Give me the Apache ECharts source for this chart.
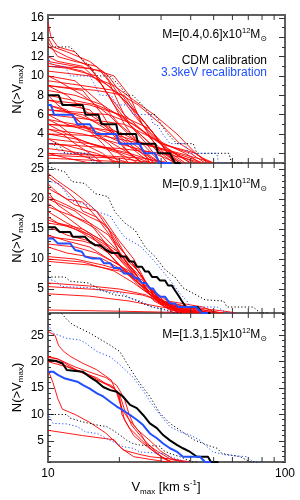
<!DOCTYPE html>
<html><head><meta charset="utf-8">
<script src="https://cdn.jsdelivr.net/npm/echarts@6/dist/echarts.min.js"></script>
<style>html,body{margin:0;padding:0;background:#fff}#c{width:300px;height:500px}</style>
</head><body><div id="c"></div>
<script>
// ---------- tick labels ----------
const xMinorTicks = [20,30,40,50,60,70,80,90];
const topYTicks = [2,4,6,8,10,12,14,16];
const midYTicks = [5,10,15,20,25];
const botYTicks = [5,10,15,20,25];
const yRanges = [[1,16.3],[1,26],[1,29.2]];
const panelTitles = ['[0.4,0.6]', '[0.9,1.1]', '[1.3,1.5]'];
const legendLabels = ['CDM calibration', '3.3keV recalibration'];

// ---------- top panel M=[0.4,0.6] ----------
const topBlackMed = [[10,8],[11.1,8],[11.5,7],[14,7],[14.4,6],[16.3,6],[16.8,5],[19.4,5],[19.8,4],[23.5,4],[24,3],[28.3,3],[29.2,2],[32.7,2],[34.3,1],[36,1],[36.3,0]];
const topBlueMed = [[10,7],[10.3,7],[10.6,6],[12.7,6],[13.3,5],[15,5],[16,4],[19.4,4],[20,3],[24.3,3],[25.5,2],[28.3,2],[29.5,1],[33,1],[33.3,0]];
const topBlackHi = [[10,13],[12.4,13],[13.6,12],[15,11],[16.2,10],[18.3,10],[20,9],[21.6,8],[22.8,8],[25,7],[26.9,6],[28.3,6],[30,5],[32,4],[35,3],[41,3],[42.5,2],[58,2],[59.5,1],[66,1],[66.5,0]];
const topBlackLo = [[10,3],[11,3],[11.8,2],[14.5,2],[15.5,1],[17,1],[17.3,0]];
const topBlueHi = [[10,12],[10.4,11],[11.8,11],[12.4,10],[15,10],[15.8,9],[16.6,8],[18.5,8],[19.5,7],[22,7],[22.8,6],[27,6],[27.8,5],[28.8,5],[30.5,4],[32.7,3],[37.9,3],[39,2],[51.5,2],[52.5,1],[56,1],[56.3,0]];
const topBlueLo = [[10,3],[10.5,3],[11.3,2],[15,2],[15.8,1],[17,1],[17.2,0]];
const topRed = [
 [[10,15.5],[10.3,14],[11,13],[13,12.5],[16,10],[20,8],[24,6],[28,4],[32,2],[36,1]],
 [[10,14],[10.5,13],[12,12.5],[15,11.5],[18,10],[22,7],[26,5],[30,3],[34,1]],
 [[10,13],[12,12],[15,11],[18,8],[21,6],[26,4],[31,2],[36,1]],
 [[10,11.5],[13,11],[17,10.5],[20,8],[23,6],[27,4],[33,2],[38,1]],
 [[10,11.3],[14,10.5],[18,9],[22,7],[25,5],[30,3],[40,2],[46,1]],
 [[10,11],[12,10.8],[16,10],[19,7],[22,5],[27,3],[32,1]],
 [[10,10.5],[15,10],[19,9],[23,7.5],[28,6],[35,4],[42,2],[48,1]],
 [[10,10],[13,9.5],[17,7],[20,5],[25,3],[30,1]],
 [[10,10],[11,9.5],[14,8],[18,6],[24,3],[28,1]],
 [[10,9.5],[14,9],[19,8.5],[24,7],[30,5],[36,3],[45,1.5],[50,1]],
 [[10,9],[12,8],[15,6],[20,4],[26,2],[30,1]],
 [[10,8.5],[13,8],[17,7],[21,5.5],[27,3],[35,1]],
 [[10,8],[16,7],[20,6],[26,4],[34,2],[40,1]],
 [[10,8],[11,7],[14,5],[18,3],[22,1]],
 [[10,7.5],[15,7],[20,6],[27,4.5],[32,2],[37,1]],
 [[10,7],[13,6],[17,5],[22,3],[28,1]],
 [[10,7],[12,6.5],[14,5],[17,3],[20,1]],
 [[10,6.5],[18,6],[23,5],[30,3],[42,2],[47,1]],
 [[10,6.5],[14,6],[19,4],[24,2],[27,1]],
 [[10,6],[12,5],[16,4],[22,2],[25,1]],
 [[10,6],[15,5.5],[21,5],[28,3.5],[38,2],[44,1]],
 [[10,5.5],[13,5],[17,4],[23,2.5],[30,1]],
 [[10,5.5],[11,5],[14,3],[17,2],[19,1]],
 [[10,5],[16,4.5],[22,3.5],[30,2.5],[40,1.5],[45,1]],
 [[10,5],[12,4],[15,3],[20,2],[24,1]],
 [[10,4.5],[14,4],[20,3],[28,2],[35,1]],
 [[10,4.5],[11.5,4],[13,3],[15,2],[17,1]],
 [[10,4],[17,3.8],[25,3],[34,2],[42,1]],
 [[10,4],[13,3.5],[18,2.5],[24,1.5],[27,1]],
 [[10,3.5],[15,3],[22,2],[30,1]],
 [[10,3],[12,2.8],[16,2],[20,1]],
 [[10,3],[20,2.5],[30,2],[38,1.5],[44,1]],
 [[10,2.5],[14,2],[19,1.5],[22,1]],
 [[10,2],[16,1.8],[25,1.5],[33,1]],
 [[10,2],[12,1.5],[15,1]],
 [[10,1.8],[20,1.5],[28,1]],
 [[10,1.5],[18,1.2],[24,1]],
 [[10,12],[11,11.5],[14,11],[17,9],[19,7],[21,5],[24,3],[27,1]],
 [[10,9],[16,8.5],[21,8],[24,6],[28,4],[32,2.5],[40,1]],
 [[10,11],[15,10.8],[19,10],[22,8],[25,5],[30,2],[34,1]],
 [[10,7.5],[12,7],[15,6.5],[18,4.5],[21,2.5],[25,1]],
 [[10,9],[14,8.5],[17,6],[19,4],[22,2],[25,1]],
 [[10,13.5],[11,12],[13,11.5],[16,11],[18,9.5],[20,7],[22,5],[26,3],[30,1]],
 [[10,5],[14,4.8],[20,4.2],[25,3],[36,2],[47,1.2],[50,1]],
 [[10,3.5],[11,3],[13,2],[17,1]]
];

// ---------- middle panel M=[0.9,1.1] ----------
const midBlackMed = [[10,15.3],[10.7,15.3],[11.2,14.5],[12.4,14.5],[12.7,13.7],[14.3,13.7],[15,12.9],[15.8,12.3],[16.6,12.3],[17.6,11.5],[18.6,11],[19.8,11],[20.3,10.4],[21.3,10.4],[22,9.6],[23,9.6],[23.7,8.7],[24.9,8.7],[25.7,7.9],[26.6,7.9],[27.5,7],[28.8,7],[29.7,6.4],[31.2,6.4],[32.1,5.6],[33.3,5.6],[34.3,4.8],[35.4,4],[36.7,3],[38.2,2],[42.9,2],[44.6,1],[48,1],[48.5,0]];
const midBlueMed = [[10,13.4],[10.5,13.4],[11,12.6],[12.4,12.6],[13,11.5],[13.9,11.2],[14.3,10.4],[15.3,10.1],[16.6,10.1],[17.2,9.3],[18.3,9.3],[19,8.5],[20.1,8.5],[20.9,7.6],[22.2,7.6],[23.3,6.8],[24,6.8],[24.9,6],[25.9,6],[26.9,5.1],[27.7,5.1],[28.6,4.3],[29.7,3.7],[31.2,3.7],[32.7,2.6],[34.3,2.6],[35.4,2],[42.1,2],[44.6,1],[47,1],[47.3,0]];
const midBlackHi = [[10,25.4],[10.4,25.2],[11.8,24.5],[12.6,22.9],[14.3,22.6],[15.8,20.9],[17.9,20.4],[19.2,17.8],[21.1,16],[23.3,14.8],[25.7,12],[28.3,10.4],[31.2,8.2],[34.3,7],[37.1,5.2],[40.9,4.3],[46,3.2],[55,3],[57,2],[73.4,2],[78.6,1],[85,1],[85.5,0]];
const midBlackLo = [[10,7],[11.8,7],[12.4,6.3],[14.8,6],[15.8,5.4],[17.4,4.6],[19.2,4],[21.1,3.8],[23.3,3.2],[25.7,2.4],[27.5,2],[31.2,1.6],[34.3,1],[37,1],[37.3,0]];
const midBlueHi = [[10,23],[11.2,22.5],[12.6,19.7],[14.8,19],[16.3,17.8],[18.3,17.2],[19.6,15.3],[21.1,13.6],[24.4,12.2],[26.9,10.5],[29.7,8.5],[32.7,6.5],[36.1,4.2],[38.6,3],[39.8,2],[51.7,2],[56.9,1],[62,1],[62.3,0]];
const midBlueLo = [[10,6.7],[10.7,6.3],[11.5,5.4],[15.3,5.2],[16.3,4.8],[18.3,4.5],[20.5,4.3],[22.6,3.4],[24.9,2.9],[27.5,2],[31.2,1.5],[33.3,1],[35,1],[35.3,0]];
const midRed = [
 [[10,24.3],[11,23],[13,21],[15,19],[17,17],[20,13],[23,10],[26,6],[30,3],[36,1.5],[42,1]],
 [[10,23.7],[11.5,22],[13,20],[14,18],[16,17],[18,15],[20,11],[23,8],[26,5],[30,3],[38,1]],
 [[10,21.8],[12,20],[14,19.5],[16,17],[19,13],[22,10],[25,7],[28,4],[33,2],[40,1]],
 [[10,21.2],[11,19],[13,17],[16,15],[19,12],[22,9],[25,6],[29,3],[35,1.5],[45,1]],
 [[10,20.4],[12,19],[15,17],[17,16],[19,14],[21,11],[24,8],[27,5],[31,2.5],[38,1]],
 [[10,19.3],[12,17],[14,15],[17,13],[20,11],[24,8],[27,5],[32,3],[45,2],[52,1]],
 [[10,18.7],[13,17],[15,16],[18,12],[21,9],[25,6],[28,3],[33,1.5],[40,1]],
 [[10,17.9],[12,16],[15,14],[18,12],[22,9],[26,6],[30,3],[36,2],[50,1]],
 [[10,17],[11,16],[14,15],[17,13],[20,10],[24,7],[27,4],[32,2],[37,1]],
 [[10,16.5],[13,15],[16,13],[19,11],[23,8],[26,5],[30,3],[40,1.5],[48,1]],
 [[10,15.4],[12,14],[15,13],[18,11],[21,8],[24,6],[28,4],[33,2],[42,1]],
 [[10,14],[12,13],[15,12],[18,10],[22,8],[26,5],[30,3],[36,1]],
 [[10,13.7],[14,13],[17,12],[20,9],[23,7],[27,4],[32,2],[39,1]],
 [[10,12.5],[13,12],[16,11],[20,9],[24,6],[28,4],[34,2],[44,1]],
 [[10,10.4],[13,10],[17,9],[21,8],[24,6],[28,4],[33,2],[40,1]],
 [[10,10],[14,9.5],[19,8],[23,6],[27,4],[32,2.5],[38,1.5],[46,1]],
 [[10,9.6],[15,9],[20,8],[25,6.5],[28,4],[32,2],[36,1]],
 [[10,6],[15,5.5],[20,5],[26,4],[30,2.5],[40,1.8],[55,1]],
 [[10,5.4],[18,4.8],[25,4],[30,3],[40,2],[58,1.2],[62,1]],
 [[10,4.2],[15,3.8],[22,3],[30,2],[40,1.5],[50,1]],
 [[10,1.5],[20,1.3],[35,1.1],[45,1]],
 [[10,22.5],[11,21],[13,19],[16,18],[18,15],[20,12],[23,9],[26,6],[29,3],[34,1]],
 [[10,16],[12,15.5],[15,14],[17,12],[20,9],[23,7],[27,5],[31,3],[38,2],[50,1.2],[55,1]],
 [[10,20],[13,18],[15,16],[18,14],[21,10],[24,6],[27,4],[31,2],[36,1]],
 [[10,12],[12,11],[17,10],[21,8],[25,5],[30,3],[35,2],[43,1]]
];

// ---------- bottom panel M=[1.3,1.5] ----------
const botBlackMed = [[10,20.3],[10.9,20.1],[11.5,19.7],[12,18.4],[14,18.1],[15,17.1],[16.1,16.2],[17.1,15.2],[18.3,14.6],[19.5,14.3],[20.7,13.4],[22.2,11.8],[23.7,11.2],[25.2,9.9],[26.9,8.3],[28.8,7.4],[30.6,6.1],[32.7,5.1],[35.1,4.2],[37.1,3.6],[39.8,2.9],[42.5,2],[47.3,2],[48.7,1],[52,1],[52.3,0]];
const botBlueMed = [[10,18.1],[10.5,18.1],[11,17.5],[11.8,16.8],[13.3,16.2],[14,15.6],[15,14.9],[16.1,14],[17.1,13.4],[18.3,12.4],[19.5,11.5],[20.7,10.8],[22.2,9.9],[23.7,9],[25.2,8],[26.9,6.4],[28.8,5.5],[30.6,4.5],[32.7,3.6],[35.1,2.9],[37.1,2],[43.8,2],[46,1],[48.3,1],[48.6,0]];
const botBlackHi = [[10,32],[11.2,29.5],[12,28],[12.7,27],[15,25.4],[18.3,23.1],[20.1,21.9],[22.2,18.7],[24.4,15.9],[26.9,13.4],[29.7,10.2],[32.7,8.3],[36.1,7],[38.6,6.1],[41.7,5.1],[46.9,4.2],[51.7,3.6],[54.3,2.6],[64.7,2],[71.3,1],[76,1],[76.3,0]];
const botBlueHi = [[10,27],[10.5,25.4],[12,24.4],[13.6,24.1],[14.4,23.5],[16.1,21.9],[18.3,20.9],[20.1,19.4],[22.8,17.1],[25.2,14.5],[26.9,12.5],[29.7,9.9],[32.7,7.7],[36.1,6.7],[39.8,6.1],[43.8,5.1],[49.6,2.9],[56.9,2.3],[69.1,2],[73.4,1],[80,1],[80.3,0]];
const botBlackLo = [[10,10],[12,10],[12.4,9.3],[14,8.6],[16.1,8],[17.7,7.7],[18.8,7],[20.1,6.1],[21.5,5.1],[22.8,4.5],[24.4,4.2],[29.7,4],[30.6,3.2],[32.7,2.6],[36.1,2],[38.6,1.4],[40.9,1],[43,1],[43.3,0]];
const botBlueLo = [[10,10.2],[10.5,8.3],[12,8.2],[13.3,7.7],[14.4,6.7],[16.1,6.4],[17.1,5.8],[18.3,5.1],[19.5,4.5],[20.7,3.9],[22.8,3.6],[24.4,2.9],[30.6,2.6],[32.7,2],[36.1,1.4],[37.1,1],[39,1],[39.3,0]];
const botRed = [
 [[10,25.7],[10.7,25],[11.1,23],[11.6,22],[12.4,21],[14,19.7],[16,18.5],[18.5,16.5],[19.5,14],[20.5,11],[22,9],[24,7],[27,5],[30,3],[34,1.5],[38,1]],
 [[10,21],[11,20.5],[12.5,19],[14,17.8],[16,17],[18,15.5],[19.5,14.5],[20.3,12],[21,9],[23,6],[26,4],[29,2.5],[33,1]],
 [[10,20.5],[11.5,19.5],[13,18.5],[15,17.5],[17,16],[19,15],[20,13.5],[20.5,10],[22,7.5],[25,5],[28,3],[31,1.5],[34,1]],
 [[10,20],[12,19],[14,18],[16,16.5],[18.5,15.5],[20,14],[21,11],[22.5,8],[24.5,6],[27,4],[30,2],[33,1]],
 [[10,18.5],[10.5,16],[11,13],[11.5,11],[13,10],[15,8.5],[17.5,6.5],[19,5],[20.5,3.5],[23,2],[27,1.5],[32,1]],
 [[10,7],[14,6],[19,5.2],[20,4],[21,3.2],[24,2.5],[27,2],[34,1.5],[40,1]],
 [[10,20.8],[11,20.5],[13,19],[15,18],[17.5,17],[19.5,15.5],[21,13],[22,10],[23,8],[24.5,6.5],[26,4.5],[29,3],[33,1.5],[37,1]]
];

const panels = [
  {red: topRed, bm: topBlackMed, bh: topBlackHi, bl: topBlackLo, um: topBlueMed, uh: topBlueHi, ul: topBlueLo, yt: topYTicks, minorStep: 1},
  {red: midRed, bm: midBlackMed, bh: midBlackHi, bl: midBlackLo, um: midBlueMed, uh: midBlueHi, ul: midBlueLo, yt: midYTicks, minorStep: 1},
  {red: botRed, bm: botBlackMed, bh: botBlackHi, bl: botBlackLo, um: botBlueMed, uh: botBlueHi, ul: botBlueLo, yt: botYTicks, minorStep: 1}
];

// ---------- layout ----------
const L = 48, R = 15;
const gridTops = [15, 163, 313];
const gridHeights = [148, 150, 149];
const FONT = 'Liberation Sans, Arial, Helvetica, sans-serif';
const RED = '#ff0000', BLUE = '#1f4fff', BLACK = '#000000';
const tickColor = '#333';

const chart = echarts.init(document.getElementById('c'), null, {renderer: 'canvas'});

const grid = [], xAxis = [], yAxis = [], series = [], graphic = [];

panels.forEach((p, gi) => {
  const [ymin, ymax] = yRanges[gi];
  grid.push({left: L, right: R, top: gridTops[gi], height: gridHeights[gi], show: true,
    borderColor: '#5f5f5f', borderWidth: 2, backgroundColor: 'transparent', containLabel: false});
  xAxis.push({type: 'log', logBase: 10, gridIndex: gi, min: 10, max: 100,
    axisLine: {show: false}, splitLine: {show: false}, axisTick: {show: false},
    axisLabel: {show: gi === 2, fontSize: 12, color: '#000', fontFamily: FONT, margin: 6}});
  const minors = [];
  for (let v = Math.ceil(ymin); v <= ymax; v += p.minorStep) if (p.yt.indexOf(v) < 0) minors.push(v);
  const mk = (pos, major, labels) => ({
    type: 'value', gridIndex: gi, min: ymin, max: ymax, position: pos,
    axisLine: {show: false}, splitLine: {show: false},
    axisTick: {show: true, inside: true, length: major ? 6 : 3, customValues: major ? p.yt : minors,
      lineStyle: {color: tickColor, width: 1}},
    axisLabel: {show: labels, customValues: p.yt, fontSize: 12, color: '#000', fontFamily: FONT, margin: 4}
  });
  yAxis.push(mk('left', true, true), mk('left', false, false), mk('right', true, false), mk('right', false, false));
  const yi = gi * 4;
  const ln = (data, color, width, type, z) => ({type: 'line', xAxisIndex: gi, yAxisIndex: yi, data,
    symbol: 'none', showSymbol: false, silent: true, animation: false, clip: true, z,
    lineStyle: {color, width, type}});
  p.red.forEach(d => series.push(ln(d, RED, 0.9, 'solid', 2)));
  series.push(ln(p.bh, BLACK, 1, [1.2, 2.2], 3));
  series.push(ln(p.bl, BLACK, 1, [1.2, 2.2], 3));
  series.push(ln(p.uh, BLUE, 1, [1.2, 2.2], 3));
  series.push(ln(p.ul, BLUE, 1, [1.2, 2.2], 3));
  series.push(ln(p.bm, BLACK, 2, 'solid', 4));
  series.push(ln(p.um, BLUE, 2, 'solid', 4));
  // minor log ticks on bottom and top edges
  series.push({type: 'custom', xAxisIndex: gi, yAxisIndex: yi, silent: true, animation: false, clip: false, z: 10,
    data: xMinorTicks.map(v => [v, ymin]), encode: {x: 0, y: 1},
    renderItem: (params, api) => {
      const v = api.value(0);
      const b = api.coord([v, ymin]);
      const t = api.coord([v, ymax]);
      return {type: 'group', children: [
        {type: 'line', shape: {x1: b[0], y1: b[1], x2: b[0], y2: b[1] - 5}, style: {stroke: tickColor, lineWidth: 1}},
        {type: 'line', shape: {x1: t[0], y1: t[1], x2: t[0], y2: t[1] + 5}, style: {stroke: tickColor, lineWidth: 1}}
      ]};
    }});
  // y axis title
  graphic.push({type: 'text', x: 17, y: gridTops[gi] + gridHeights[gi] / 2, rotation: Math.PI / 2, z: 20,
    style: {text: '{a|N(>V}{s|max}{a|)}', align: 'center', verticalAlign: 'middle',
      rich: {a: {fontSize: 13, fontFamily: FONT, fill: '#000', lineHeight: 16, verticalAlign: 'middle'},
             s: {fontSize: 8, fontFamily: FONT, fill: '#000', lineHeight: 16, verticalAlign: 'bottom'}}}});
  // panel title
  const titleY = [35, 185, 335][gi];
  graphic.push({type: 'text', x: 267, y: titleY, z: 20,
    style: {text: '{a|M=' + panelTitles[gi] + 'x10}{p|12}{a|M}{s|\u2299}', align: 'right', verticalAlign: 'middle',
      rich: {a: {fontSize: 12, fontFamily: FONT, fill: '#000', lineHeight: 16, verticalAlign: 'middle'},
             p: {fontSize: 7.5, fontFamily: FONT, fill: '#000', lineHeight: 16, verticalAlign: 'top'},
             s: {fontSize: 8, fontFamily: 'DejaVu Sans', fill: '#000', lineHeight: 16, verticalAlign: 'bottom'}}}});
});

graphic.push({type: 'text', x: 267, y: 61, z: 20, style: {text: legendLabels[0], align: 'right', verticalAlign: 'middle', fontSize: 12, fontFamily: FONT, fill: '#000'}});
graphic.push({type: 'text', x: 267, y: 73, z: 20, style: {text: legendLabels[1], align: 'right', verticalAlign: 'middle', fontSize: 12, fontFamily: FONT, fill: BLUE}});
graphic.push({type: 'text', x: 166, y: 487, z: 20,
  style: {text: '{a|V}{s|max}{a| [km s}{p|-1}{a|]}', align: 'center', verticalAlign: 'middle',
    rich: {a: {fontSize: 13, fontFamily: FONT, fill: '#000', lineHeight: 17, verticalAlign: 'middle'},
           s: {fontSize: 8, fontFamily: FONT, fill: '#000', lineHeight: 17, verticalAlign: 'bottom'},
           p: {fontSize: 8, fontFamily: FONT, fill: '#000', lineHeight: 17, verticalAlign: 'top'}}}});

chart.setOption({animation: false, backgroundColor: '#fff', grid, xAxis, yAxis, series, graphic});
</script></body></html>
